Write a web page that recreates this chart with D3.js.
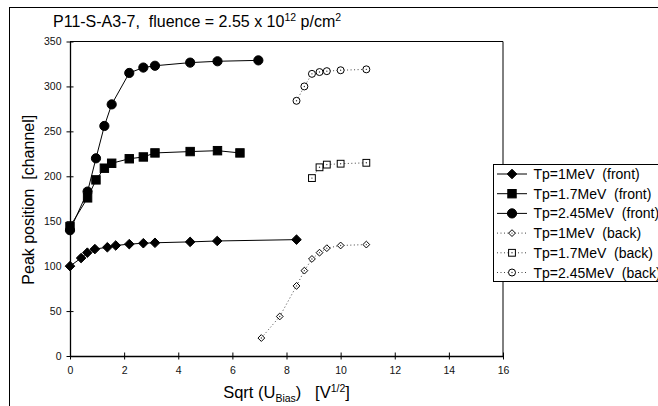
<!DOCTYPE html>
<html><head><meta charset="utf-8">
<script src="https://cdn.jsdelivr.net/npm/d3@7"></script>
<style>
body{margin:0;background:#fff;}
svg text{font-family:"Liberation Sans",Arial,sans-serif;white-space:pre;}
</style></head><body>
<svg id="c" width="658" height="406"></svg>
<script>
const xTicks = [0,2,4,6,8,10,12,14,16];
const yTicks = [0,50,100,150,200,250,300,350];

const front1X = [0,0.41,0.64,0.92,1.38,1.69,2.19,2.71,3.14,4.44,5.44,8.37];
const front1Y = [100,109,115,119,121,123,124.5,125.5,126,127,128,129.5];
const front17X = [0,0.65,0.96,1.27,1.54,2.19,2.71,3.14,4.44,5.45,6.28];
const front17Y = [144,176,196,209,214.5,219.5,221.5,226,227.5,228.5,226];
const front245X = [0,0.65,0.96,1.27,1.54,2.19,2.71,3.14,4.44,5.45,6.96];
const front245Y = [140,183,220,256,280,315,321,323,326.5,328,329];
const back1X = [7.07,7.75,8.37,8.66,8.94,9.22,9.49,10,10.95];
const back1Y = [20,44,78,95,108,115,120,123,124];
const back17X = [8.94,9.22,9.49,10,10.95];
const back17Y = [198,210,213,214,215];
const back245X = [8.37,8.66,8.94,9.22,9.49,10,10.95];
const back245Y = [284,300,314,316,317,318,319];

const seriesNames = ["Tp=1MeV  (front)","Tp=1.7MeV  (front)","Tp=2.45MeV  (front)",
  "Tp=1MeV  (back)","Tp=1.7MeV  (back)","Tp=2.45MeV  (back)"];
const series = [
  {x:front1X,y:front1Y,m:"diamond",back:false},
  {x:front17X,y:front17Y,m:"square",back:false},
  {x:front245X,y:front245Y,m:"circle",back:false},
  {x:back1X,y:back1Y,m:"diamond",back:true},
  {x:back17X,y:back17Y,m:"square",back:true},
  {x:back245X,y:back245Y,m:"circle",back:true}
];

const svg = d3.select("#c");
const L=70,R=503,T=41.5,B=356;
const x = d3.scaleLinear().domain([0,16]).range([L,R]);
const y = d3.scaleLinear().domain([0,350]).range([B,T]);

// outer chart frame
svg.append("rect").attr("x",9.5).attr("y",7.5).attr("width",700).attr("height",500)
  .attr("fill","none").attr("stroke","#000").attr("stroke-width",1);

// plot area border (top, right)
svg.append("path").attr("d",`M${L},${T}H${R}V${B}`).attr("fill","none").attr("stroke","#000").attr("stroke-width",1);

// axes
const xa = svg.append("g").attr("transform",`translate(0,${B})`)
  .call(d3.axisBottom(x).tickValues(xTicks).tickSize(0).tickPadding(11));
const ya = svg.append("g").attr("transform",`translate(${L},0)`)
  .call(d3.axisLeft(y).tickValues(yTicks).tickSize(0).tickPadding(8.5));
[xa,ya].forEach(g=>{
  g.select(".domain").attr("stroke","#000").attr("stroke-width",1.3);
  g.selectAll("text").attr("font-size",10.5).attr("fill","#111").attr("font-family","Liberation Sans, Arial, sans-serif");
});
xa.selectAll(".tick").append("line").attr("y1",-3.5).attr("y2",3.5).attr("stroke","#000");
ya.selectAll(".tick").append("line").attr("x1",-3.5).attr("x2",3.5).attr("stroke","#000");

function marker(g,type,back){
  if(type==="diamond"){
    const s = back?3.4:4.8;
    g.append("path").attr("d",`M0,${-s}L${s},0L0,${s}L${-s},0Z`);
  } else if(type==="square"){
    const s = back?3.4:4.2;
    g.append("rect").attr("x",-s).attr("y",-s).attr("width",2*s).attr("height",2*s);
  } else {
    g.append("circle").attr("r",back?3.5:4.6);
  }
  g.selectAll("*").attr("fill",back?"#fff":"#000").attr("stroke","#000").attr("stroke-width",1);
  if(back) g.append("circle").attr("r",0.7).attr("fill","#333");
}

const line = d3.line().x(d=>x(d[0])).y(d=>y(d[1]));
series.forEach(s=>{
  const pts = s.x.map((v,i)=>[v,s.y[i]]);
  svg.append("path").datum(pts).attr("d",line).attr("fill","none")
    .attr("stroke",s.back?"#444":"#000").attr("stroke-width",1)
    .attr("stroke-dasharray",s.back?"1,2.5":null);
  pts.forEach(p=>{
    const g = svg.append("g").attr("transform",`translate(${x(p[0])},${y(p[1])})`);
    marker(g,s.m,s.back);
  });
});

// legend
const lg = svg.append("g");
lg.append("rect").attr("x",493.5).attr("y",164.5).attr("width",200).attr("height",117)
  .attr("fill","#fff").attr("stroke","#000");
seriesNames.forEach((n,i)=>{
  const yy = 174+i*19.7;
  const s = series[i];
  lg.append("line").attr("x1",497).attr("x2",527).attr("y1",yy).attr("y2",yy)
    .attr("stroke",s.back?"#444":"#000").attr("stroke-dasharray",s.back?"1,2.5":null);
  marker(lg.append("g").attr("transform",`translate(512,${yy})`),s.m,s.back);
  lg.append("text").attr("x",533.5).attr("y",yy+5).attr("font-size",14).text(n);
});

// title
const t = svg.append("text").attr("x",53).attr("y",27).attr("font-size",16);
t.append("tspan").text("P11-S-A3-7,  fluence = 2.55 x 10");
t.append("tspan").attr("dy",-6).attr("font-size",10.5).text("12");
t.append("tspan").attr("dy",6).text(" p/cm");
t.append("tspan").attr("dy",-6).attr("font-size",10.5).text("2");

// axis titles
svg.append("text").attr("transform",`translate(34,${(T+B)/2+1}) rotate(-90)`)
  .attr("text-anchor","middle").attr("font-size",16).text("Peak position  [channel]");
const xt = svg.append("text").attr("x",286.5).attr("y",398).attr("text-anchor","middle").attr("font-size",16.5);
xt.append("tspan").text("Sqrt (U");
xt.append("tspan").attr("dy",3.5).attr("font-size",10.5).text("Bias");
xt.append("tspan").attr("dy",-3.5).text(")   [V");
xt.append("tspan").attr("dy",-6).attr("font-size",10.5).text("1/2");
xt.append("tspan").attr("dy",6).text("]");
</script></body></html>
